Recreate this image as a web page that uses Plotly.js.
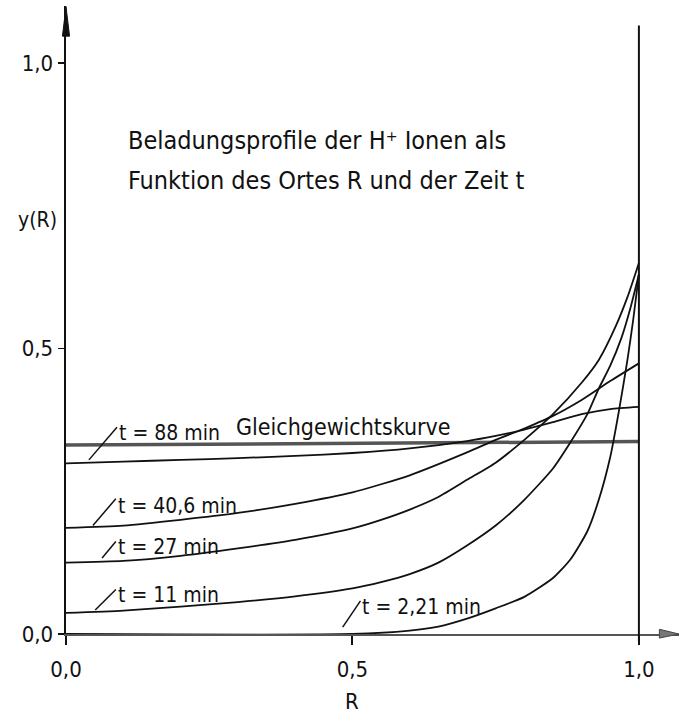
<!DOCTYPE html>
<html>
<head>
<meta charset="utf-8">
<script src="https://cdn.plot.ly/plotly-3.0.1.min.js"></script>
<style>
html,body{margin:0;padding:0;background:#fff;}
#chart{width:680px;height:718px;}
</style>
</head>
<body>
<div id="chart"></div>
<script>
// ---- data ----
const R_eq  = [0, 1.0];
const y_eq  = [0.331, 0.337];

const R_t88 = [0, 0.1, 0.2, 0.3, 0.4, 0.5, 0.6, 0.7, 0.75, 0.8, 0.85, 0.9, 0.95, 1.0];
const y_t88 = [0.299, 0.302, 0.305, 0.308, 0.312, 0.317, 0.325, 0.338, 0.347, 0.358, 0.371, 0.385, 0.394, 0.398];

const R_t406 = [0, 0.1, 0.2, 0.3, 0.4, 0.5, 0.6, 0.7, 0.75, 0.8, 0.85, 0.9, 0.95, 1.0];
const y_t406 = [0.186, 0.190, 0.200, 0.212, 0.228, 0.248, 0.278, 0.318, 0.340, 0.360, 0.382, 0.410, 0.443, 0.474];

const R_t27 = [0, 0.1, 0.2, 0.3, 0.4, 0.5, 0.55, 0.6, 0.65, 0.7, 0.75, 0.8, 0.85, 0.9, 0.93, 0.96, 0.98, 1.0];
const y_t27 = [0.125, 0.128, 0.137, 0.150, 0.165, 0.185, 0.200, 0.218, 0.240, 0.270, 0.300, 0.340, 0.385, 0.440, 0.480, 0.540, 0.590, 0.650];

const R_t11 = [0, 0.1, 0.2, 0.3, 0.4, 0.5, 0.55, 0.6, 0.65, 0.7, 0.75, 0.8, 0.85, 0.88, 0.91, 0.93, 0.95, 0.97, 0.985, 1.0];
const y_t11 = [0.037, 0.041, 0.048, 0.056, 0.066, 0.080, 0.091, 0.105, 0.125, 0.155, 0.190, 0.235, 0.290, 0.335, 0.385, 0.430, 0.470, 0.520, 0.570, 0.630];

const R_t221 = [0, 0.5, 0.6, 0.65, 0.7, 0.75, 0.8, 0.85, 0.88, 0.91, 0.93, 0.95, 0.965, 0.98, 0.99, 1.0];
const y_t221 = [0, 0, 0.006, 0.013, 0.027, 0.045, 0.065, 0.098, 0.130, 0.180, 0.235, 0.310, 0.390, 0.480, 0.550, 0.630];

const xTickVals = [0, 0.5, 1.0];
const xTickText = ['0,0', '0,5', '1,0'];
const yTickVals = [0, 0.5, 1.0];
const yTickText = ['0,0', '0,5', '1,0'];

const curveLabels = ['t = 88 min', 't = 40,6 min', 't = 27 min', 't = 11 min', 't = 2,21 min'];
const eqLabel = 'Gleichgewichtskurve';
const titleLines = ['Beladungsprofile der H\u207A Ionen als', 'Funktion des Ortes R und der Zeit t'];
const xTitle = 'R';
const yTitle = 'y(R)';

// ---- drawing ----
const FONT = '"DejaVu Sans Condensed", "Liberation Sans Narrow", "DejaVu Sans", sans-serif';
const curveLine = {color: '#111', width: 1.8, shape: 'spline', smoothing: 0.6};

const traces = [
  {x: R_eq, y: y_eq, mode: 'lines', line: {color: '#555', width: 3.5}, hoverinfo: 'skip'},
  {x: R_t88, y: y_t88, mode: 'lines', line: curveLine},
  {x: R_t406, y: y_t406, mode: 'lines', line: curveLine},
  {x: R_t27, y: y_t27, mode: 'lines', line: curveLine},
  {x: R_t11, y: y_t11, mode: 'lines', line: curveLine},
  {x: R_t221, y: y_t221, mode: 'lines', line: curveLine}
];

function lbl(x, y, text, size) {
  return {x: x, y: y, xref: 'x', yref: 'y', text: text, showarrow: false,
          xanchor: 'left', yanchor: 'middle', font: {family: FONT, size: size || 21, color: '#111'}};
}
function leader(x0, y0, x1, y1) {
  return {type: 'line', xref: 'x', yref: 'y', x0: x0, y0: y0, x1: x1, y1: y1,
          line: {color: '#111', width: 1.5}};
}

const annotations = [
  lbl(0.105, 0.865, titleLines[0], 25),
  lbl(0.105, 0.795, titleLines[1], 25),
  lbl(0.089, 0.352, curveLabels[0]),
  lbl(0.293, 0.362, eqLabel, 23),
  lbl(0.087, 0.225, curveLabels[1]),
  lbl(0.087, 0.152, curveLabels[2]),
  lbl(0.087, 0.068, curveLabels[3]),
  lbl(0.514, 0.047, curveLabels[4]),
  {x: 0.4666, y: -0.108, xref: 'paper', yref: 'paper', text: xTitle, showarrow: false,
   xanchor: 'center', yanchor: 'middle', font: {family: FONT, size: 22, color: '#111'}},
  {x: -0.047, y: 0.659, xref: 'paper', yref: 'paper', text: yTitle, showarrow: false,
   xanchor: 'center', yanchor: 'middle', font: {family: FONT, size: 21, color: '#111'}}
];

const shapes = [
  // right boundary line at R = 1
  {type: 'line', xref: 'x', yref: 'y', x0: 1, x1: 1, y0: 0, y1: 1.066, line: {color: '#111', width: 2}},
  {type: 'line', xref: 'x', yref: 'paper', x0: 1, x1: 1, y0: 0, y1: -0.012, line: {color: '#111', width: 2}},
  // y-axis arrowhead (paper coordinates, not clipped)
  {type: 'path', xref: 'paper', yref: 'paper', path: 'M -0.0058,0.952 L 0,0.999 L 0.0058,0.952 Z',
   fillcolor: '#111', line: {color: '#111', width: 1}},
  // x-axis arrowhead
  {type: 'path', xref: 'paper', yref: 'paper', path: 'M 0.968,0.0075 L 1.0,0 L 0.968,-0.0065 Z',
   fillcolor: '#777', line: {color: '#444', width: 1}},
  // leader lines of the curve labels
  leader(0.040, 0.305, 0.089, 0.362),
  leader(0.047, 0.190, 0.087, 0.237),
  leader(0.063, 0.133, 0.087, 0.162),
  leader(0.051, 0.042, 0.087, 0.078),
  leader(0.483, 0.012, 0.514, 0.058)
];

const layout = {
  width: 680, height: 718,
  margin: {l: 66, r: 1, t: 6, b: 84},
  paper_bgcolor: '#fff', plot_bgcolor: '#fff',
  showlegend: false,
  font: {family: FONT, color: '#111'},
  xaxis: {
    range: [0, 1.07], showgrid: false, zeroline: false,
    showline: true, linecolor: '#555', linewidth: 2,
    ticks: 'outside', ticklen: 9, tickwidth: 2, tickcolor: '#111',
    tickvals: xTickVals, ticktext: xTickText, ticklabelstandoff: 6,
    tickfont: {family: FONT, size: 22, color: '#111'}
  },
  yaxis: {
    range: [0, 1.1], showgrid: false, zeroline: false,
    showline: true, linecolor: '#111', linewidth: 2.5,
    ticks: 'outside', ticklen: 6, tickwidth: 1.5, tickcolor: '#111',
    tickvals: yTickVals, ticktext: yTickText, ticklabelstandoff: 0,
    tickfont: {family: FONT, size: 22, color: '#111'}
  },
  annotations: annotations,
  shapes: shapes
};

Plotly.newPlot('chart', traces, layout, {staticPlot: true, displayModeBar: false});
</script>
</body>
</html>
